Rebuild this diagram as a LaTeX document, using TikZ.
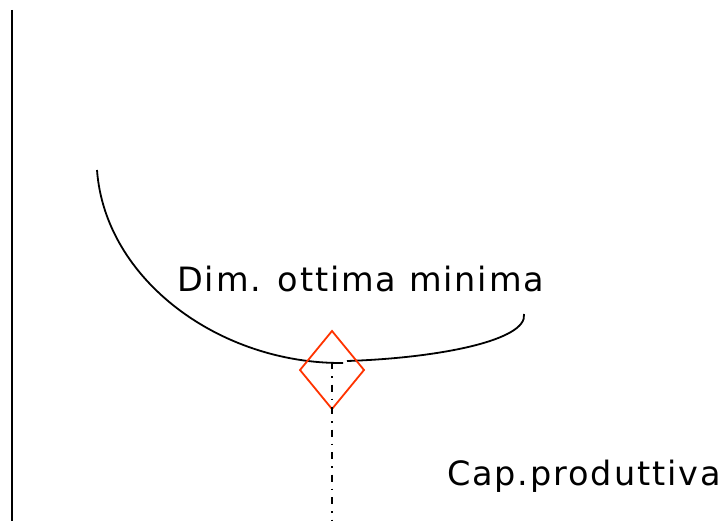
\documentclass[tikz,border=0pt]{standalone}
\usepackage{fontspec}
\setmainfont{DejaVu Sans}[LetterSpace=5.6]
\definecolor{markred}{RGB}{255,51,0}
\begin{document}
\begin{tikzpicture}[x=1pt,y=-1pt,
  axis/.style={line width=2pt},
  curve/.style={line width=1.8pt},
  mark box/.style={draw=markred, line width=1.8pt},
  lbl/.style={inner sep=0pt, anchor=base west, font=\fontsize{33.5}{40}\selectfont}]
\useasboundingbox (0,0) rectangle (728,521);
\coordinate (axtop) at (12,10);
\coordinate (axbot) at (12,521);
\draw[axis] (axtop) -- (axbot);
\coordinate (c1) at (97,170);
\coordinate (c2) at (343,363);
\coordinate (c3) at (347,361);
\coordinate (c4) at (524,314);
\draw[curve] (c1) .. controls (105,280) and (220,364) .. (c2);
\draw[curve] (c3) .. controls (440,358) and (528,340) .. (c4);
\draw[mark box] (332,331) coordinate (dt) -- (364,370) -- (332,409) -- (300,370) -- cycle;
\coordinate (vtop) at (332,362);
\coordinate (vbot) at (332,521);
\draw[line width=1.8pt, dash pattern=on 7pt off 7pt on 1.5pt off 7pt] (vtop) -- (vbot);
\node[lbl] (dim) at (177,292) {Dim. ottima minima};
\node[lbl] (cap) at (447,485) {Cap.produttiva};
\end{tikzpicture}
\end{document}
